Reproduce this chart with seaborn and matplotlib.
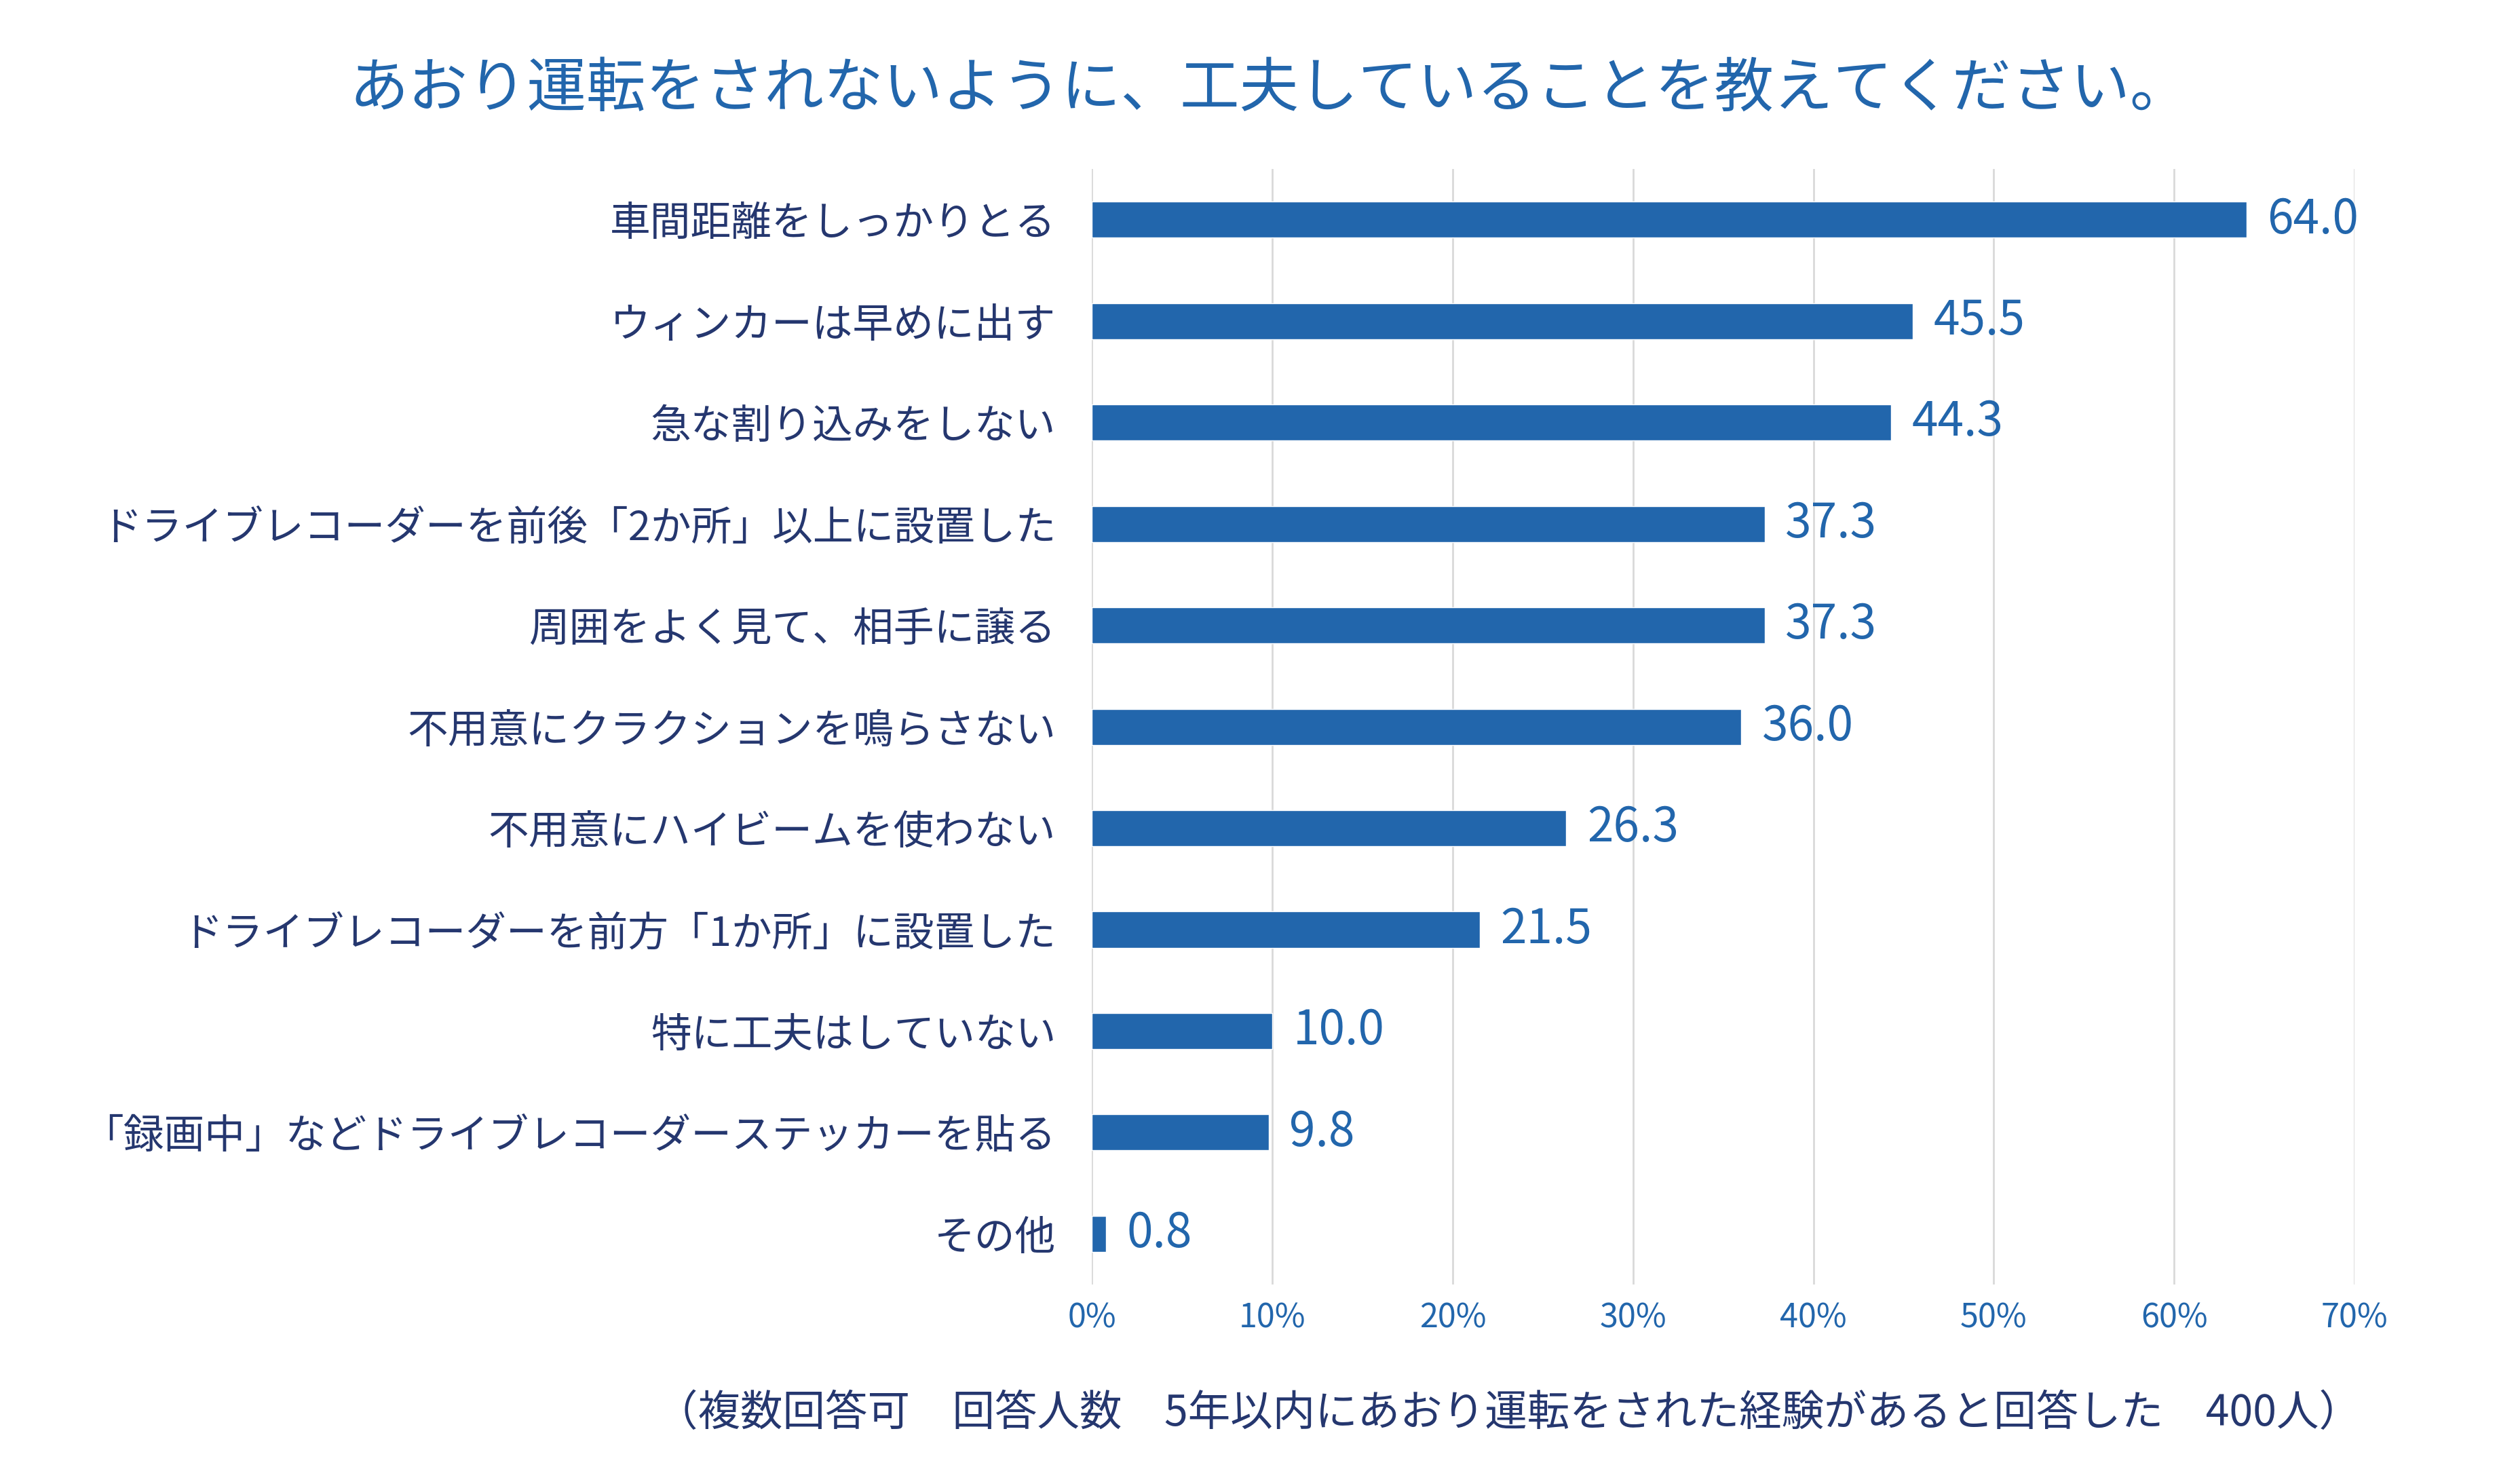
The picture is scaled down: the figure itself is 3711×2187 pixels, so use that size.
import matplotlib
matplotlib.use('Agg')
import matplotlib.pyplot as plt
import seaborn as sns
import pandas as pd

# データ
items = [
    '車間距離をしっかりとる',
    'ウィンカーは早めに出す',
    '急な割り込みをしない',
    'ドライブレコーダーを前後「2か所」以上に設置した',
    '周囲をよく見て、相手に譲る',
    '不用意にクラクションを鳴らさない',
    '不用意にハイビームを使わない',
    'ドライブレコーダーを前方「1か所」に設置した',
    '特に工夫はしていない',
    '「録画中」などドライブレコーダーステッカーを貼る',
    'その他',
]
values = [64.0, 45.5, 44.3, 37.3, 37.3, 36.0, 26.3, 21.5, 10.0, 9.8, 0.8]
ticks = [0, 10, 20, 30, 40, 50, 60, 70]
tick_labels = ['0%', '10%', '20%', '30%', '40%', '50%', '60%', '70%']

title = 'あおり運転をされないように、工夫していることを教えてください。'
note = '（複数回答可　回答人数　5年以内にあおり運転をされた経験があると回答した　400人）'

# 色
bar_color = '#2266ac'
navy = '#25376f'
grid_color = '#d9d9d9'

sns.set_theme(style='white')
plt.rcParams['font.family'] = ['Noto Sans CJK JP', 'DejaVu Sans']

df = pd.DataFrame({'item': items, 'value': values})

fig = plt.figure(figsize=(37.11, 21.87), dpi=100)
ax = fig.add_axes([0.4336, 0.1344, 0.5015, 0.7517])

sns.barplot(data=df, x='value', y='item', orient='h', color=bar_color,
            width=0.355, saturation=1, ax=ax, zorder=3)

ax.set_xlim(0, 70)
ax.set_ylim(10.5, -0.5)
ax.set_xticks(ticks)
ax.set_xticklabels(tick_labels, color=bar_color, fontsize=35)
ax.tick_params(axis='x', length=0, pad=18)
ax.tick_params(axis='y', length=0, pad=38, labelsize=43, labelcolor=navy)
ax.xaxis.grid(True, color=grid_color, linewidth=2, zorder=0)
ax.yaxis.grid(False)
for s in ax.spines.values():
    s.set_visible(False)
ax.set_xlabel('')
ax.set_ylabel('')

# 数値ラベル
ax.bar_label(ax.containers[0], fmt='%.1f', padding=22, fontsize=50, color=bar_color)

fig.text(0.504, 1 - 132 / 2187, title, ha='center', va='center', fontsize=63, color=bar_color)
fig.text(3480 / 3711, 1 - 2083 / 2187, note, ha='right', va='center', fontsize=45, color=navy)

fig.savefig('out.png', dpi=100, facecolor='white')
